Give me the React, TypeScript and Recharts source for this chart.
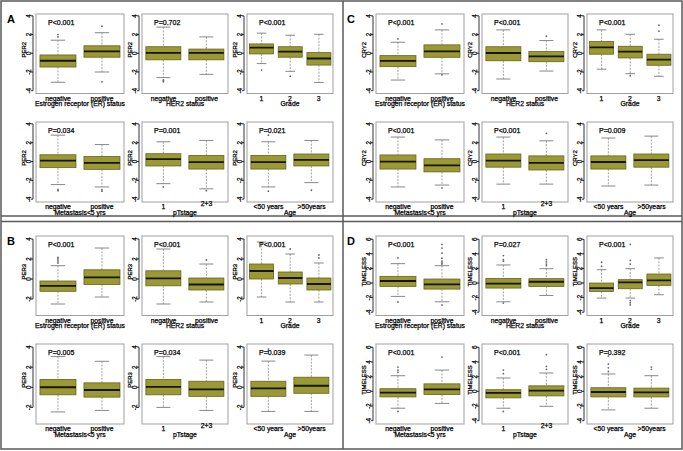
import React from 'react';
import { ComposedChart, Bar, XAxis, YAxis } from 'recharts';

const FONT = '"Liberation Sans", Arial, Helvetica, sans-serif';

const GENES = ['PER2', 'PER3', 'CRY2', 'TIMELESS'];
const PANEL_LETTERS = ['A', 'B', 'C', 'D'];

const FACTOR_TITLES = [
  'Estrogen receptor (ER) status',
  'HER2 status',
  'Grade',
  'Metastasis<5 yrs',
  'pTstage',
  'Age',
];
const FACTOR_CATS = [
  ['negative', 'positive'],
  ['negative', 'positive'],
  ['1', '2', '3'],
  ['negative', 'positive'],
  ['1', '2+3'],
  ['<50 years', '>50years'],
];

// each box: [lower whisker, Q1, median, Q3, upper whisker]
const PER2_BOXES = [
  [[-3.1, -1.47, -0.8, -0.18, 1.4], [-2.0, -0.42, 0.2, 0.8, 2.2]],
  [[-2.6, -0.7, 0.05, 0.7, 2.8], [-2.25, -0.7, 0.05, 0.45, 1.75]],
  [[-1.1, -0.07, 0.6, 1.0, 2.15], [-1.93, -0.42, 0.18, 0.7, 1.93], [-3.12, -1.26, -0.56, 0.07, 2.03]],
  [[-2.45, -0.65, 0.1, 0.72, 2.8], [-2.7, -0.83, -0.14, 0.54, 1.8]],
  [[-2.35, -0.47, 0.25, 0.83, 2.1], [-2.9, -0.8, -0.07, 0.65, 2.24]],
  [[-2.7, -0.8, -0.07, 0.65, 2.1], [-2.24, -0.47, 0.18, 0.8, 2.24]],
];
const PER2_OUTLIERS = [
  [[2.0, 1.75], [2.9, -3.05]],
  [[-2.85, -2.95, -3.05], []],
  [[-1.8], [-2.45], []],
  [[-2.95, -3.1], [-3.0, -3.15]],
  [[-2.7], [-3.1]],
  [[2.8, -3.15], [-3.05]],
];
const PER2_P = ['P<0.001', 'P=0.702', 'P<0.001', 'P=0.034', 'P=0.001', 'P=0.021'];

const PER3_BOXES = [
  [[-2.5, -1.23, -0.68, -0.2, 1.33], [-1.8, -0.55, 0.17, 0.92, 3.1]],
  [[-2.5, -0.68, 0.07, 0.82, 3.0], [-2.3, -1.1, -0.55, 0.1, 1.5]],
  [[-1.8, 0.0, 0.8, 1.5, 3.7], [-2.3, -0.5, 0.1, 0.7, 2.5], [-2.3, -1.1, -0.5, 0.1, 1.6]],
  [[-2.45, -0.75, 0.0, 0.78, 3.05], [-2.3, -0.98, -0.27, 0.44, 2.58]],
  [[-2.0, -0.75, 0.03, 0.78, 3.05], [-2.3, -0.9, -0.2, 0.6, 2.7]],
  [[-2.4, -0.9, -0.1, 0.6, 2.6], [-2.4, -0.6, 0.15, 1.0, 3.2]],
];
const PER3_OUTLIERS = [
  [[1.6, 1.8, 2.0, 2.15], []],
  [[], [1.9]],
  [[], [3.0], [2.1, 2.4]],
  [[], []],
  [[], []],
  [[3.6, 3.8], []],
];
const PER3_P = ['P<0.001', 'P<0.001', 'P<0.001', 'P=0.005', 'P=0.034', 'P=0.039'];

const CRY2_BOXES = [
  [[-2.86, -1.43, -0.82, -0.25, 1.18], [-2.2, -0.43, 0.2, 0.9, 2.5]],
  [[-2.75, -0.8, 0.03, 0.7, 2.5], [-1.9, -0.9, -0.32, 0.18, 1.36]],
  [[-1.7, -0.1, 0.64, 1.25, 2.5], [-2.18, -0.5, 0.18, 0.75, 2.03], [-2.46, -1.28, -0.68, -0.1, 1.5]],
  [[-2.7, -0.8, 0.0, 0.7, 2.6], [-2.5, -1.1, -0.4, 0.3, 2.3]],
  [[-2.4, -0.6, 0.1, 0.8, 2.6], [-2.4, -0.9, -0.15, 0.6, 2.2]],
  [[-2.6, -0.8, -0.05, 0.6, 2.5], [-2.5, -0.6, 0.15, 0.8, 2.7]],
];
const CRY2_OUTLIERS = [
  [[1.54, 2.96], [3.14, -2.3]],
  [[], [1.82]],
  [[], [-2.4], [2.36, 3.0]],
  [[], [-2.8]],
  [[], [3.0]],
  [[], []],
];
const CRY2_P = ['P<0.001', 'P<0.001', 'P<0.001', 'P<0.001', 'P<0.001', 'P=0.009'];

const TIMELESS_BOXES = [
  [[-1.83, -0.46, 0.28, 0.92, 2.66], [-2.57, -0.83, -0.18, 0.55, 2.38]],
  [[-2.57, -0.69, -0.09, 0.64, 2.48], [-1.7, -0.46, 0.18, 0.6, 1.97]],
  [[-2.06, -1.15, -0.69, 0.0, 1.83], [-2.06, -0.78, 0.09, 0.46, 1.97], [-1.6, -0.32, 0.37, 1.24, 3.44]],
  [[-2.3, -0.76, -0.18, 0.36, 2.13], [-1.64, -0.44, 0.27, 1.02, 2.9]],
  [[-2.3, -0.89, -0.22, 0.22, 1.82], [-2.04, -0.62, 0.09, 0.75, 2.5]],
  [[-2.53, -0.76, -0.09, 0.49, 2.36], [-2.3, -0.76, -0.13, 0.44, 2.13]],
];
const TIMELESS_OUTLIERS = [
  [[3.44, -2.6], [2.6, 2.75, 3.0, 3.4, 4.1, 4.8, 5.3, -3.0]],
  [[3.0, 3.2, 3.76, -2.75], [2.4, 2.6, 2.9, 3.2]],
  [[2.3, 2.85], [2.6, 3.1, 5.3, -2.4, -2.7, -3.0], []],
  [[2.6, 2.9, 3.3, -2.75], [4.67]],
  [[2.4, 2.9, -2.75], [3.0, 3.4, 5.0]],
  [[2.7, 3.2, 3.7, 4.8], [3.0, 3.3]],
];
const TIMELESS_P = ['P<0.001', 'P=0.027', 'P<0.001', 'P<0.001', 'P<0.001', 'P=0.392'];

const GENE_BOXES = [PER2_BOXES, PER3_BOXES, CRY2_BOXES, TIMELESS_BOXES];
const GENE_OUTLIERS = [PER2_OUTLIERS, PER3_OUTLIERS, CRY2_OUTLIERS, TIMELESS_OUTLIERS];
const GENE_P = [PER2_P, PER3_P, CRY2_P, TIMELESS_P];
const GENE_TICKS = [
  [-4, -2, 0, 2, 4],
  [-2, 0, 2, 4],
  [-4, -2, 0, 2, 4],
  [-4, -2, 0, 2, 4, 6],
];
const GENE_DOMAINS = [
  [-4.3, 4.2],
  [-3.65, 4.3],
  [-4.3, 4.2],
  [-4.45, 6.45],
];

// layout (px)
const PANEL_ORIGIN = [[0, 0], [0, 222], [340, 0], [340, 222]];
const COL_LEFT = [36, 142, 247];
const COL_WIDTH = [88, 86, 86];
const ROW_TOP = [14, 122];
const ROW_HEIGHT = [79.5, 80];
const YW = 20;
const XH = 16;

const BOX_FILL = '#9b9836';
const BOX_EDGE = '#66641c';
const WHISKER = '#7a7a7a';
const FRAME = '#a0a0a0';
const INK = '#000';

function BoxShape(props: any) {
  const { x, y, width, height, payload } = props;
  if (!payload) return null;
  const [lo, q1, med, q3, hi] = payload.stats;
  const top = Math.min(y, y + height);
  const bot = Math.max(y, y + height);
  const py = (v: number) => bot - ((v - lo) / (hi - lo)) * (bot - top);
  const cx = x + width / 2;
  const cap = width * 0.2;
  return (
    <g>
      <line x1={cx} x2={cx} y1={py(hi)} y2={py(q3)} stroke={WHISKER} strokeWidth={0.7} strokeDasharray="2 1.3" />
      <line x1={cx} x2={cx} y1={py(q1)} y2={py(lo)} stroke={WHISKER} strokeWidth={0.7} strokeDasharray="2 1.3" />
      <line x1={cx - cap} x2={cx + cap} y1={py(hi)} y2={py(hi)} stroke={WHISKER} strokeWidth={0.9} />
      <line x1={cx - cap} x2={cx + cap} y1={py(lo)} y2={py(lo)} stroke={WHISKER} strokeWidth={0.9} />
      <rect x={x} y={py(q3)} width={width} height={py(q1) - py(q3)} fill={BOX_FILL} stroke={BOX_EDGE} strokeWidth={0.8} />
      <line x1={x} x2={x + width} y1={py(med)} y2={py(med)} stroke="#141400" strokeWidth={1.8} />
      {payload.outliers.map((v: number, i: number) => (
        <circle key={i} cx={cx} cy={py(v)} r={0.9} fill="#666" />
      ))}
    </g>
  );
}

const textStyle = { fontFamily: FONT, fill: INK, stroke: INK, strokeWidth: 0.25 };

function YTick(props: any) {
  const { x, y, payload } = props;
  const lx = x - 5;
  return (
    <g>
      <line x1={x - 3} x2={x - 5} y1={y} y2={y} stroke={INK} strokeWidth={0.8} />
      <text x={lx} y={y} transform={`rotate(-90, ${lx}, ${y})`} textAnchor="middle" fontSize={6.3} style={textStyle}>
        {payload.value}
      </text>
    </g>
  );
}

function XTick(props: any) {
  const { x, y, payload } = props;
  const raise = payload.value === '2+3' ? -3 : 0;
  return (
    <text x={x} y={y + 7.3 + raise} textAnchor="middle" fontSize={6.8} style={textStyle}>
      {payload.value}
    </text>
  );
}

function YDecor(props: any) {
  const { viewBox, gene, ticks, domain, pText, plotW } = props;
  if (!viewBox) return null;
  const { x, y, width, height } = viewBox;
  const axisX = x + width - 3;
  const py = (v: number) => y + ((domain[1] - v) / (domain[1] - domain[0])) * height;
  const lx = x + width - 9.8;
  const ly = y + height / 2 - 4;
  return (
    <g>
      <rect x={x + width} y={y} width={plotW} height={height} fill="none" stroke={FRAME} strokeWidth={1} />
      <line x1={axisX} x2={axisX} y1={py(ticks[ticks.length - 1])} y2={py(ticks[0])} stroke={INK} strokeWidth={0.8} />
      <text x={lx} y={ly} transform={`rotate(-90, ${lx}, ${ly})`} textAnchor="middle" fontSize={6} style={textStyle}>
        {gene}
      </text>
      <text x={x + width + 12} y={y + 10.5} fontSize={7} style={textStyle}>
        {pText}
      </text>
    </g>
  );
}

function XDecor(props: any) {
  const { viewBox, title } = props;
  if (!viewBox) return null;
  const { x, y, width } = viewBox;
  return (
    <text x={x + width / 2} y={y + 12.8} textAnchor="middle" fontSize={6.8} style={textStyle}>
      {title}
    </text>
  );
}

function BoxPlot({ g, f }: { g: number; f: number }) {
  const [ox, oy] = PANEL_ORIGIN[g];
  const col = f % 3;
  const row = Math.floor(f / 3);
  const plotW = COL_WIDTH[col];
  const plotH = ROW_HEIGHT[row];
  const left = ox + COL_LEFT[col];
  const top = oy + ROW_TOP[row];
  const data = FACTOR_CATS[f].map((name, i) => ({
    name,
    range: [GENE_BOXES[g][f][i][0], GENE_BOXES[g][f][i][4]],
    stats: GENE_BOXES[g][f][i],
    outliers: GENE_OUTLIERS[g][f][i],
  }));
  return (
    <div style={{ position: 'absolute', left: left - YW, top: top - 1 }}>
      <ComposedChart
        width={YW + plotW + 1}
        height={plotH + XH + 1}
        data={data}
        margin={{ top: 1, right: 1, bottom: 0, left: 0 }}
        barCategoryGap="9%"
      >
        <XAxis
          dataKey="name"
          type="category"
          interval={0}
          axisLine={false}
          tickLine={false}
          tickSize={0}
          tickMargin={0}
          height={XH}
          tick={(p: any) => <XTick {...p} />}
          label={<XDecor title={FACTOR_TITLES[f]} />}
        />
        <YAxis
          type="number"
          domain={GENE_DOMAINS[g]}
          ticks={GENE_TICKS[g]}
          interval={0}
          allowDataOverflow
          width={YW}
          axisLine={false}
          tickLine={false}
          tickSize={0}
          tickMargin={0}
          tick={(p: any) => <YTick {...p} />}
          label={
            <YDecor gene={GENES[g]} ticks={GENE_TICKS[g]} domain={GENE_DOMAINS[g]} pText={GENE_P[g][f]} plotW={plotW} />
          }
        />
        <Bar dataKey="range" shape={(p: any) => <BoxShape {...p} />} isAnimationActive={false} />
      </ComposedChart>
    </div>
  );
}

export default function App() {
  return (
    <div style={{ position: 'absolute', left: 0, top: 0, width: 683, height: 451, background: '#fff', fontFamily: FONT }}>
      <svg width={683} height={451} style={{ position: 'absolute', left: 0, top: 0 }}>
        <rect x={1} y={1} width={681} height={448} fill="none" stroke="#5a5a5a" strokeWidth={1.5} />
        <line x1={343} x2={343} y1={1} y2={449} stroke="#5a5a5a" strokeWidth={1.5} />
        <line x1={1} x2={682} y1={216} y2={216} stroke="#5a5a5a" strokeWidth={1.5} />
        <line x1={1} x2={682} y1={221.5} y2={221.5} stroke="#5a5a5a" strokeWidth={1.5} />
        {PANEL_LETTERS.map((l, i) => (
          <text
            key={l}
            x={PANEL_ORIGIN[i][0] + 7}
            y={PANEL_ORIGIN[i][1] + 23}
            fontSize={11}
            fontWeight="bold"
            fontFamily={FONT}
            fill={INK}
          >
            {l}
          </text>
        ))}
      </svg>
      {GENES.map((_, g) => FACTOR_TITLES.map((__, f) => <BoxPlot key={`${g}-${f}`} g={g} f={f} />))}
    </div>
  );
}
